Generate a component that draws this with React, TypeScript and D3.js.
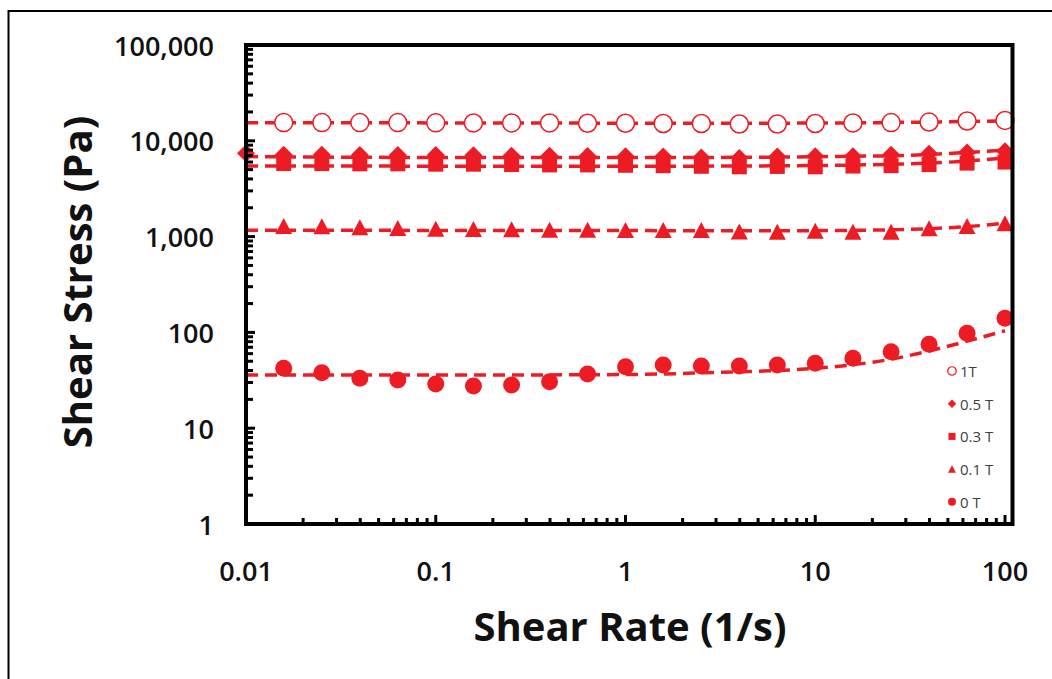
import React from "react";
import * as d3 from "d3";

// ---------- data ----------
const shearRate = [0.01, 0.0158, 0.0251, 0.0398, 0.0631, 0.1, 0.158, 0.251, 0.398, 0.631, 1, 1.58, 2.51, 3.98, 6.31, 10, 15.8, 25.1, 39.8, 63.1, 100];

const stress1T = [null, 15500, 15500, 15500, 15500, 15400, 15350, 15350, 15350, 15250, 15250, 15150, 15150, 14970, 14970, 15150, 15350, 15500, 15700, 16100, 16300];
const fit1T = [15450, 15450, 15440, 15420, 15400, 15380, 15360, 15340, 15320, 15300, 15280, 15270, 15260, 15260, 15280, 15320, 15400, 15520, 15700, 15900, 16150];

const stress05T = [7400, 7150, 7150, 7100, 7100, 7100, 7050, 7000, 7000, 6950, 6900, 6850, 6700, 6620, 6850, 6900, 6900, 7150, 7330, 7570, 7760];
const fit05T = [6850, 6800, 6760, 6730, 6710, 6700, 6700, 6690, 6690, 6680, 6680, 6680, 6690, 6720, 6760, 6820, 6900, 6980, 7200, 7550, 8000];

const stress03T = [null, 5790, 5790, 5750, 5750, 5700, 5700, 5650, 5600, 5600, 5550, 5500, 5420, 5350, 5400, 5350, 5450, 5500, 5650, 5850, 6000];
const fit03T = [5450, 5450, 5450, 5450, 5440, 5440, 5440, 5430, 5430, 5430, 5430, 5430, 5440, 5450, 5480, 5520, 5580, 5680, 5850, 6150, 6600];

const stress01T = [null, 1290, 1280, 1250, 1230, 1210, 1200, 1190, 1180, 1180, 1175, 1175, 1170, 1130, 1125, 1150, 1125, 1125, 1220, 1290, 1380];
const fit01T = [1165, 1165, 1165, 1163, 1162, 1160, 1160, 1158, 1157, 1156, 1155, 1154, 1153, 1152, 1152, 1155, 1162, 1178, 1210, 1270, 1380];

const stress0T = [null, 42.2, 38.0, 33.2, 31.8, 28.9, 27.6, 28.2, 30.6, 36.8, 43.9, 45.7, 44.6, 44.6, 45.7, 47.6, 53.7, 62.9, 75.1, 97.9, 140.4];
const fit0T = [35.9, 35.9, 35.9, 35.9, 35.9, 35.9, 35.9, 35.9, 36.0, 36.1, 36.3, 36.8, 37.8, 38.8, 40.0, 42.2, 46.0, 52.5, 64.0, 81.0, 104];

const seriesNames = ["1T", "0.5 T", "0.3 T", "0.1 T", "0 T"];
const seriesMarkers = ["openCircle", "diamond", "square", "triangle", "circle"];
const seriesValues = [stress1T, stress05T, stress03T, stress01T, stress0T];
const seriesFits = [fit1T, fit05T, fit03T, fit01T, fit0T];

const xTickValues = [0.01, 0.1, 1, 10, 100];
const xTickLabels = ["0.01", "0.1", "1", "10", "100"];
const yTickValues = [1, 10, 100, 1000, 10000, 100000];
const yTickLabels = ["1", "10", "100", "1,000", "10,000", "100,000"];

// ---------- style / layout ----------
const W = 1052;
const H = 679;
const RED = "#ED1C24";
const FONT = "'Open Sans', 'DejaVu Sans', sans-serif";
const plot = { left: 246, right: 1005, frameRight: 1012.5, top: 45, bottom: 524 };

function markerPath(type: string, big: boolean): string {
  const s = big ? 1 : 0.47;
  if (type === "diamond") {
    const r = 9 * s;
    return `M0,${-r}L${r},0L0,${r}L${-r},0Z`;
  }
  if (type === "square") {
    const h = 7.5 * s;
    return `M${-h},${-h}H${h}V${h}H${-h}Z`;
  }
  if (type === "triangle") {
    const w = 8.5 * s;
    const h = 8 * s;
    return `M0,${-h}L${w},${h}L${-w},${h}Z`;
  }
  const r = (type === "openCircle" ? 9 : 8.5) * s;
  return `M${r},0A${r},${r} 0 1,1 ${-r},0A${r},${r} 0 1,1 ${r},0Z`;
}

function Marker({ type, x, y, big }: { type: string; x: number; y: number; big: boolean }) {
  const open = type === "openCircle";
  return (
    <path
      d={markerPath(type, big)}
      transform={`translate(${x},${y})`}
      fill={open ? "#fff" : RED}
      stroke={open ? RED : "none"}
      strokeWidth={open ? (big ? 1.5 : 1.2) : 0}
    />
  );
}

export default function App() {
  const x = d3.scaleLog().domain([0.01, 100]).range([plot.left, plot.right]);
  const y = d3.scaleLog().domain([1, 100000]).range([plot.bottom, plot.top]);

  const line = d3
    .line<[number, number]>()
    .x((d) => x(d[0]))
    .y((d) => y(d[1]))
    .curve(d3.curveMonotoneX);

  const xMinor = x.ticks().filter((v) => !xTickValues.some((t) => Math.abs(t - v) / t < 1e-6));
  const yMinor = y.ticks().filter((v) => !yTickValues.some((t) => Math.abs(t - v) / t < 1e-6));

  const legendX = 952;
  const legendY0 = 371;
  const legendStep = 32.7;

  return (
    <svg
      width={W}
      height={H}
      viewBox={`0 0 ${W} ${H}`}
      style={{ position: "absolute", left: 0, top: 0, background: "#fff" }}
      fontFamily={FONT}
    >
      <rect x={0} y={0} width={W} height={H} fill="#fff" />
      {/* outer border */}
      <rect x={8.5} y={11} width={1200} height={800} fill="none" stroke="#000" strokeWidth={2} />

      {/* fit lines and markers */}
      {seriesValues.map((vals, si) => {
        const fitPts = shearRate.map((r, i) => [r, seriesFits[si][i]] as [number, number]);
        return (
          <g key={si}>
            <path
              d={line(fitPts) || ""}
              fill="none"
              stroke={RED}
              strokeWidth={3.5}
              strokeDasharray="12,7"
            />
            {vals.map((v, i) =>
              v == null ? null : (
                <Marker key={i} type={seriesMarkers[si]} x={x(shearRate[i])} y={y(v)} big={true} />
              )
            )}
          </g>
        );
      })}

      {/* frame */}
      <rect
        x={plot.left}
        y={plot.top}
        width={plot.frameRight - plot.left}
        height={plot.bottom - plot.top}
        fill="none"
        stroke="#000"
        strokeWidth={4}
      />

      {/* y ticks */}
      {yTickValues.map((v, i) => (
        <g key={"yt" + i}>
          <line x1={plot.left} x2={plot.left + 9} y1={y(v)} y2={y(v)} stroke="#000" strokeWidth={3} />
          <text
            x={214}
            y={y(v)}
            textAnchor="end"
            dominantBaseline="central"
            fontSize={27}
            fontWeight={600}
            fill="#111"
          >
            {yTickLabels[i]}
          </text>
        </g>
      ))}
      {yMinor.map((v, i) => (
        <line key={"ym" + i} x1={plot.left} x2={plot.left + 7} y1={y(v)} y2={y(v)} stroke="#000" strokeWidth={3} />
      ))}

      {/* x ticks */}
      {xTickValues.map((v, i) => (
        <g key={"xt" + i}>
          <line x1={x(v)} x2={x(v)} y1={plot.bottom} y2={plot.bottom - 9} stroke="#000" strokeWidth={3} />
          <text
            x={x(v)}
            y={570}
            textAnchor="middle"
            dominantBaseline="central"
            fontSize={27}
            fontWeight={600}
            fill="#111"
          >
            {xTickLabels[i]}
          </text>
        </g>
      ))}
      {xMinor.map((v, i) => (
        <line key={"xm" + i} x1={x(v)} x2={x(v)} y1={plot.bottom} y2={plot.bottom - 6} stroke="#000" strokeWidth={3} />
      ))}

      {/* axis titles */}
      <text x={630} y={625} textAnchor="middle" dominantBaseline="central" fontSize={40} fontWeight={700} fill="#111">
        Shear Rate (1/s)
      </text>
      <text
        transform={`translate(76,282) rotate(-90)`}
        textAnchor="middle"
        dominantBaseline="central"
        fontSize={40}
        fontWeight={700}
        fill="#111"
      >
        Shear Stress (Pa)
      </text>

      {/* legend */}
      {seriesNames.map((name, i) => (
        <g key={"lg" + i}>
          <Marker type={seriesMarkers[i]} x={legendX} y={legendY0 + i * legendStep} big={false} />
          <text
            x={legendX + 8}
            y={legendY0 + i * legendStep}
            dominantBaseline="central"
            fontSize={15}
            fill="#404040"
          >
            {name}
          </text>
        </g>
      ))}
    </svg>
  );
}
